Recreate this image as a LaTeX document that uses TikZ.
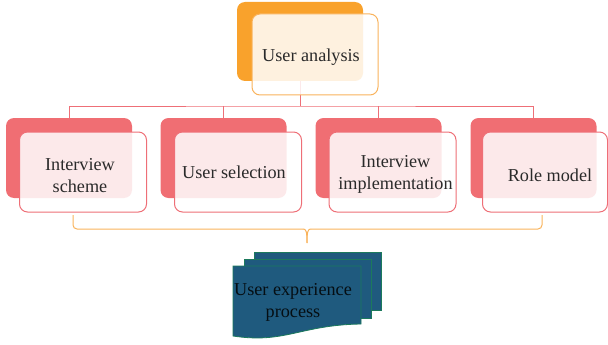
\documentclass[tikz,border=0pt]{standalone}
\usepackage{fontspec}
\setmainfont{Liberation Serif}
\definecolor{oback}{HTML}{F9A22C}
\definecolor{oline}{HTML}{F9B35C}
\definecolor{pback}{HTML}{F06E73}
\definecolor{pline}{HTML}{EE6F77}
\definecolor{docfill}{HTML}{1F5A7E}
\definecolor{docline}{HTML}{1C7A5C}
\definecolor{txtc}{HTML}{2A2A2A}
\tikzset{
  backbox/.style={rectangle, rounded corners=8pt, minimum width=126pt, minimum height=80pt, inner sep=0pt},
  frontbox/.style={rectangle, rounded corners=8pt, fill=white, fill opacity=0.85, line width=1pt, minimum width=127pt, minimum height=80pt, inner sep=0pt},
  txt/.style={text=txtc, font=\fontsize{18.2}{22}\selectfont, align=center, inner sep=0pt},
  conn/.style={draw=pline, line width=1pt},
  brace/.style={draw=oline, line width=1pt, rounded corners=4pt},
  doc/.style={fill=docfill, draw=docline, line width=0.8pt}
}
\begin{document}
\begin{tikzpicture}[x=1pt,y=-1pt]
\useasboundingbox (0,0) rectangle (608,345);
% back boxes
\node[backbox, fill=oback, minimum height=79pt] (uab) at (300,41.5) {};
\node[backbox, fill=pback] (b1) at (69,158) {};
\node[backbox, fill=pback] (b2) at (223.5,158) {};
\node[backbox, fill=pback] (b3) at (378.5,158) {};
\node[backbox, fill=pback] (b4) at (533.5,158) {};
% connectors
\coordinate (bus) at (300,106);
\draw[conn] (uab.south) -- (bus);
\draw[conn] (b1.north) |- (bus) -| (b4.north);
\draw[conn] (b2.north) -- (b2.north |- bus);
\draw[conn] (b3.north) -- (b3.north |- bus);
% front boxes
\node[frontbox, draw=oline, minimum width=126pt, minimum height=81pt] (ua) at (315,54.5) {};
\node[frontbox, draw=pline] (f1) at (83,172) {};
\node[frontbox, draw=pline] (f2) at (238,172) {};
\node[frontbox, draw=pline] (f3) at (392.5,172) {};
\node[frontbox, draw=pline, minimum width=125pt] (f4) at (545,172) {};
% texts
\node[txt] (t0) at ([xshift=-4pt,yshift=-3pt]ua.center) {User analysis};
\node[txt] (t1) at ([xshift=-3pt,yshift=-4pt]f1.center) {Interview\\scheme};
\node[txt] (t2) at ([xshift=-4pt]f2.center) {User selection};
\node[txt] (t3) at ([xshift=3pt,yshift=-2pt]f3.center) {Interview\\implementation};
\node[txt] (t4) at ([xshift=5pt,yshift=-3pt]f4.center) {Role model};
% brace
\coordinate (bl) at (73,215);
\coordinate (br) at (542,215);
\coordinate (bm) at (307,243);
\draw[brace] (bl) -- (73,229) -- (303,229);
\draw[draw=oline, line width=1pt] (303,229) .. controls (306,229) and (307,231) .. (bm);
\draw[draw=oline, line width=1pt] (bm) .. controls (307,231) and (308,229) .. (311,229);
\draw[brace] (311,229) -- (542,229) -- (br);
% document stack
\path[doc] (254,252) rectangle (381,310);
\path[doc] (244,259) rectangle (371,318);
\path[doc] (233,266) -- (361,266) -- (361,324) .. controls (300,325) and (285,344) .. (233,336) -- cycle;
\node[txt, text=black!85!docfill] (t5) at (293,302.5) {User experience\\process};
\end{tikzpicture}
\end{document}
